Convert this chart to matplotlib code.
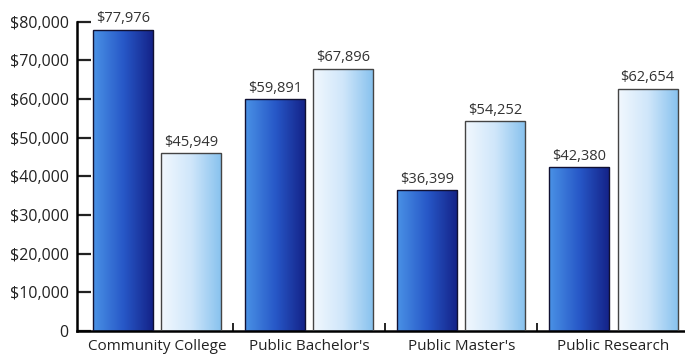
import numpy as np
import matplotlib
matplotlib.use('Agg')
from matplotlib import pyplot as plt
from matplotlib.colors import LinearSegmentedColormap

# Data.
categories = ['Community College', "Public Bachelor's", "Public Master's", 'Public Research']
dark_values = [77976, 59891, 36399, 42380]
light_values = [45949, 67896, 54252, 62654]

plt.rcParams['font.family'] = ['Open Sans', 'DejaVu Sans']

dark_cmap = LinearSegmentedColormap.from_list('dark', ['#4a92e6', '#2758c8', '#142186'])
light_cmap = LinearSegmentedColormap.from_list('light', ['#f2f8fe', '#cfe6fa', '#86c1ee'])

fig = plt.figure(figsize=(6.85, 3.62), dpi=100)
ax = fig.add_axes([0.1124, 0.0856, 0.8876, 0.8544])

x = np.arange(len(categories))
width = 0.395
offset = 0.224

dark_bars = ax.bar(x - offset, dark_values, width, facecolor='none',
                   edgecolor='#111133', linewidth=1.0, zorder=3)
light_bars = ax.bar(x + offset, light_values, width, facecolor='none',
                    edgecolor='#444444', linewidth=1.0, zorder=3)

# Horizontal gradient inside each bar.
grad = np.linspace(0, 1, 256).reshape(1, -1)
for bars, cmap in ((dark_bars, dark_cmap), (light_bars, light_cmap)):
    for bar in bars:
        x0, y0 = bar.get_x(), bar.get_y()
        w, h = bar.get_width(), bar.get_height()
        im = ax.imshow(grad, cmap=cmap, aspect='auto', extent=(x0, x0 + w, y0, y0 + h),
                       zorder=2, interpolation='bicubic')
        im.set_clip_path(bar)

for bars, values in ((dark_bars, dark_values), (light_bars, light_values)):
    for bar, v in zip(bars, values):
        ax.text(bar.get_x() + bar.get_width() / 2, v + 900, '${:,}'.format(v),
                ha='center', va='bottom', fontsize=10.5, color='#333333')

ax.set_xlim(-0.526, 3.47)
ax.set_ylim(0, 80000)
ax.set_yticks(range(0, 80001, 10000))
ax.set_yticklabels(['0'] + ['${:,}'.format(t) for t in range(10000, 80001, 10000)])
ax.set_xticks(x)
ax.set_xticklabels(categories)
ax.set_xticks([0.5, 1.5, 2.5], minor=True)

ax.tick_params(axis='y', direction='in', length=10, width=1.6, labelsize=11.5,
               colors='#222222', pad=6)
ax.tick_params(axis='x', which='major', length=0, labelsize=11, colors='#222222', pad=6)
ax.tick_params(axis='x', which='minor', direction='in', length=6, width=1.2)

for side in ('top', 'right'):
    ax.spines[side].set_visible(False)
ax.spines['left'].set_linewidth(1.8)
ax.spines['bottom'].set_linewidth(1.8)
ax.set_facecolor('white')

fig.savefig('out.png', dpi=100)
